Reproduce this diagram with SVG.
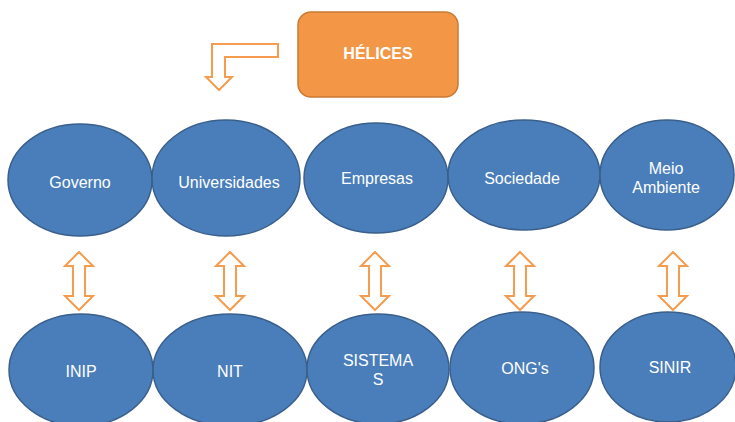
<svg xmlns="http://www.w3.org/2000/svg" width="735" height="422" viewBox="0 0 735 422">
<defs>
<style>
.node ellipse{fill:#4a7ebb;stroke:#3a5f8b;stroke-width:1.5}
.node text{fill:#fff;font-family:"Liberation Sans",Arial,sans-serif;font-size:16px;text-anchor:middle}
.arr{fill:#fff;stroke:#f59c4e;stroke-width:2;stroke-linejoin:miter}
.title rect{fill:#f39645;stroke:#c97a34;stroke-width:1.5}
.title text{fill:#fff;font-family:"Liberation Sans",Arial,sans-serif;font-size:16px;font-weight:bold;text-anchor:middle}
</style>
<path id="dbl" d="M0,252 L14,266 L6,266 L6,296 L14,296 L0,310 L-14,296 L-6,296 L-6,266 L-14,266 Z"/>
</defs>
<rect width="735" height="422" fill="#fff"/>
<g id="helices" class="title">
<rect x="298" y="12" width="160" height="85" rx="13" ry="13"/>
<text x="378" y="59">HÉLICES</text>
</g>
<g id="connectors">
<path class="arr" d="M278,44 L212,44 L212,77 L206,77 L219,90 L232,77 L225,77 L225,57 L278,57 Z"/>
<use href="#dbl" class="arr" transform="translate(79,0)"/>
<use href="#dbl" class="arr" transform="translate(230,0)"/>
<use href="#dbl" class="arr" transform="translate(375,0)"/>
<use href="#dbl" class="arr" transform="translate(520,0)"/>
<use href="#dbl" class="arr" transform="translate(673,0)"/>
</g>
<g id="governo" class="node"><ellipse cx="80" cy="180" rx="72" ry="56"/><text x="80" y="188">Governo</text></g>
<g id="universidades" class="node"><ellipse cx="226" cy="178" rx="74" ry="58"/><text x="229" y="188">Universidades</text></g>
<g id="empresas" class="node"><ellipse cx="376" cy="178" rx="72" ry="55"/><text x="377" y="184">Empresas</text></g>
<g id="sociedade" class="node"><ellipse cx="524" cy="175" rx="76" ry="55"/><text x="522" y="184">Sociedade</text></g>
<g id="meio-ambiente" class="node"><ellipse cx="667" cy="175" rx="67" ry="55"/><text x="666" y="174">Meio</text><text x="666" y="193">Ambiente</text></g>
<g id="inip" class="node"><ellipse cx="81" cy="370" rx="72" ry="56"/><text x="81" y="377">INIP</text></g>
<g id="nit" class="node"><ellipse cx="230" cy="370" rx="77" ry="56"/><text x="230" y="377">NIT</text></g>
<g id="sistemas" class="node"><ellipse cx="378" cy="369" rx="71" ry="55"/><text x="378" y="366">SISTEMA</text><text x="378" y="385">S</text></g>
<g id="ongs" class="node"><ellipse cx="522" cy="368" rx="72" ry="56"/><text x="525" y="374">ONG's</text></g>
<g id="sinir" class="node"><ellipse cx="668" cy="367" rx="68" ry="55"/><text x="670" y="373">SINIR</text></g>
</svg>
